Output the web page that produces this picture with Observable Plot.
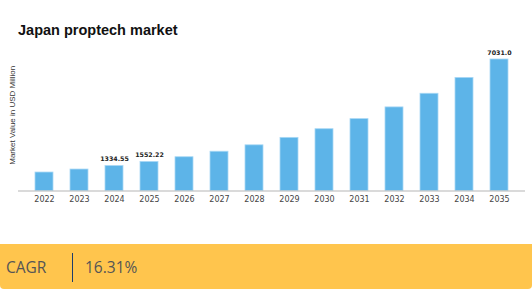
<!DOCTYPE html>
<html>
<head>
<meta charset="utf-8">
<script src="https://cdn.jsdelivr.net/npm/d3@7"></script>
<script src="https://cdn.jsdelivr.net/npm/@observablehq/plot@0.6"></script>
<style>
  html, body { margin: 0; padding: 0; background: #fff; }
  #wrap { position: relative; width: 532px; height: 289px; overflow: hidden; }
  #title { position: absolute; left: 18px; top: 22px; font: bold 14.5px "Liberation Sans", Arial, sans-serif; color: #111; }
  #chart { position: absolute; left: 0; top: 0; }
  #band { position: absolute; left: 0; top: 244px; width: 532px; height: 45px; background: #FFC54D; border-radius: 0 0 4px 4px; font-family: "Open Sans", sans-serif; font-size: 15.5px; color: #555; }
  #band .k { position: absolute; left: 6px; top: 12px; }
  #band .sep { position: absolute; left: 72px; top: 9px; width: 1.3px; height: 29px; background: #1f3d6b; }
  #band .v { position: absolute; left: 85px; top: 12px; }
</style>
</head>
<body>
<div id="wrap">
  <div id="chart"></div>
  <div id="title">Japan proptech market</div>
  <div id="band"><span class="k">CAGR</span><span class="sep"></span><span class="v">16.31%</span></div>
</div>
<script>
const years = ["2022","2023","2024","2025","2026","2027","2028","2029","2030","2031","2032","2033","2034","2035"];
const values = [988, 1148, 1334.55, 1552.22, 1805, 2100, 2442, 2841, 3304, 3843, 4470, 5199, 6047, 7031.0];
const labels = ["", "", "1334.55", "1552.22", "", "", "", "", "", "", "", "", "", "7031.0"];
const yLabel = "Market Value in USD Million";

const data = years.map((y, i) => ({year: y, value: values[i], label: labels[i]}));

const plot = Plot.plot({
  width: 532,
  height: 244,
  marginTop: 59,
  marginBottom: 53.5,
  marginLeft: 18,
  marginRight: 7,
  style: {fontFamily: "DejaVu Sans, sans-serif", background: "transparent", overflow: "visible"},
  x: {domain: years, range: [21, 521.5], paddingInner: 0.49, paddingOuter: 0.245, label: null},
  y: {domain: [0, 7031], axis: null},
  marks: [
    Plot.barY(data, {x: "year", y: "value", fill: "#5DB4E8", stroke: "#A8D8F5", strokeWidth: 0.8}),
    Plot.ruleY([0], {stroke: "#b5b5b5", strokeWidth: 1.2}),
    Plot.axisX({tickSize: 0, tickPadding: 5, fontSize: 8, fill: "#444", label: null}),
    Plot.text(data.filter(d => d.label), {x: "year", y: "value", text: "label", dy: -7, fontSize: 6.3, fontWeight: "bold", fill: "#222"}),
    Plot.text([yLabel], {frameAnchor: "left", text: d => d, textAnchor: "middle", rotate: -90, dx: -6, dy: -10, fontSize: 8, fill: "#333", fontFamily: "Liberation Sans, Arial, sans-serif"})
  ]
});
document.getElementById("chart").appendChild(plot);
</script>
</body>
</html>
